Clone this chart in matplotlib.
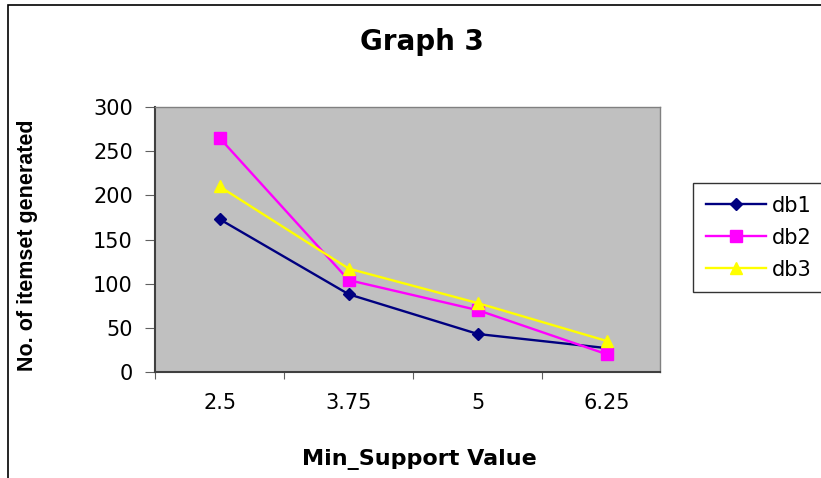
import matplotlib.pyplot as plt
from matplotlib.patches import Rectangle

plt.rcParams['font.family'] = ['DejaVu Sans']

# Datos del grafico
categorias = ["2.5", "3.75", "5", "6.25"]
db1 = [173, 88, 43, 27]
db2 = [265, 104, 70, 20]
db3 = [210, 117, 78, 35]

fig = plt.figure(figsize=(8.21, 4.78), dpi=100)

# Borde exterior del grafico
fig.patches.append(Rectangle((8 / 821, -0.1), 1.2, 1 - 5 / 478 + 0.1,
                             transform=fig.transFigure, fill=False,
                             edgecolor='black', linewidth=1.2))

ax = fig.add_axes([155 / 821, 1 - 372 / 478, (660 - 155) / 821, (372 - 107) / 478])
ax.set_facecolor('#C0C0C0')

x = range(len(categorias))
ax.plot(x, db1, color='#000080', marker='D', markersize=6.5, linewidth=1.7, label='db1')
ax.plot(x, db2, color='#FF00FF', marker='s', markersize=8, linewidth=1.7, label='db2')
ax.plot(x, db3, color='#FFFF00', marker='^', markersize=9, linewidth=1.7, label='db3')

ax.set_ylim(0, 300)
ax.set_yticks(range(0, 301, 50))
ax.set_xlim(-0.5, 3.41)
ax.set_xticks([-0.5, 0.5, 1.5, 2.5])
ax.set_xticklabels([])
ax.set_xticks(list(x), minor=True)
ax.set_xticklabels(categorias, minor=True)
ax.tick_params(axis='x', which='minor', length=0, pad=15, labelsize=15)
ax.tick_params(axis='x', which='major', length=5, color='#606060', direction='out')
ax.tick_params(axis='y', length=7, color='#606060', labelsize=15, pad=9)

for s in ['top', 'right']:
    ax.spines[s].set_color('#808080')
    ax.spines[s].set_linewidth(1)
for s in ['left', 'bottom']:
    ax.spines[s].set_color('#404040')
    ax.spines[s].set_linewidth(1.5)

fig.text(422 / 821, 1 - 42 / 478, "Graph 3", ha='center', va='center',
         fontsize=20, fontweight='bold')
fig.text(419 / 821, 1 - 460 / 478, "Min_Support Value", ha='center', va='center',
         fontsize=16, fontweight='bold')
fig.text(27 / 821, 1 - 245 / 478, "No. of itemset generated", ha='center', va='center',
         rotation=90, fontsize=15.5, fontweight='bold', family='Liberation Sans')

leg = fig.legend(loc='upper left', bbox_to_anchor=(693 / 821, 1 - 183 / 478),
                 fontsize=15, frameon=True, fancybox=False, edgecolor='black',
                 borderpad=0.6, labelspacing=0.58, handlelength=2.9,
                 handletextpad=0.3, borderaxespad=0)
leg.get_frame().set_linewidth(1)

fig.savefig('out.png', dpi=100)
